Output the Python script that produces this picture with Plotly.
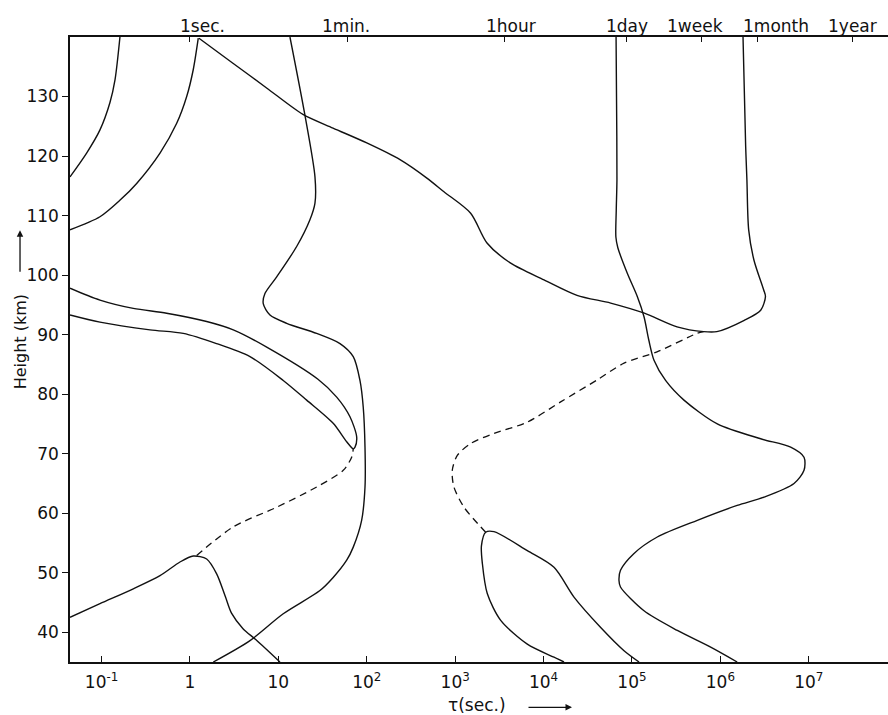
import numpy as np
import plotly.graph_objects as go

# ---- data: log10(tau [s]) and height [km] ----
A_logtau = [-1.357, -1.169, -1.018, -0.905, -0.848, -0.792]
A_h = [116.5, 120.5, 124.4, 129, 132.8, 140]

B_logtau = [-1.357, -1.018, -0.79, -0.603, -0.339, -0.15, -0.037, 0.037, 0.094]
B_h = [107.6, 109.8, 112.6, 115.4, 120.5, 125.5, 130, 134.5, 139.8]

C_logtau = [0.102, 0.486, 0.871, 1.278, 1.618, 2.0, 2.376, 2.68, 2.873, 3.175,
            3.36, 3.628, 4.005, 4.378, 4.759, 5.14, 5.51, 5.81, 5.96, 6.27,
            6.456, 6.51, 6.49, 6.38, 6.32, 6.30, 6.286, 6.256]
C_h = [139.8, 135.6, 131.4, 127.0, 124.7, 122.2, 119.4, 116.3, 114.0, 110.4,
       105.4, 102.0, 99.2, 96.6, 95.3, 93.6, 91.3, 90.5, 90.5, 92.4,
       94.1, 96.4, 97.5, 102.5, 107.6, 116, 121.6, 140]

D_logtau = [4.82, 4.825, 4.83, 4.822, 4.818, 4.84, 4.947, 5.06, 5.136, 5.19,
            5.249, 5.38, 5.588, 5.965, 6.456, 6.795, 6.946, 6.946, 6.833, 6.493,
            6.19, 5.739, 5.286, 5.02, 4.87, 4.853, 4.87, 5.136, 5.513, 5.89, 6.19]
D_h = [140, 130, 116, 110.9, 106.4, 104.6, 100.3, 96.4, 93.0, 89.1,
       85.7, 82.3, 79.0, 75.0, 72.5, 71.1, 69.4, 67.2, 65.0, 62.7,
       61.3, 58.8, 56.0, 53.2, 50.4, 48.7, 47.6, 43.6, 40.3, 37.5, 35]

E_logtau = [1.131, 1.30, 1.414, 1.414, 1.357, 1.207, 0.981, 0.848, 0.829, 0.905,
            1.094, 1.433, 1.697, 1.847, 1.923, 1.96, 1.98, 1.98, 1.942, 1.847,
            1.773, 1.62, 1.47, 1.055, 0.679, 0.264]
E_h = [140, 126.9, 116.5, 112.1, 109.3, 104.8, 99.7, 96.9, 95.2, 93.3,
       91.9, 90.2, 88.5, 86.3, 82.3, 77.8, 71.1, 64.4, 58.8, 54.3,
       52.1, 49.2, 47.0, 43.1, 38.6, 35]

F_logtau = [-1.357, -1.018, -0.641, -0.264, 0.189, 0.49, 0.868, 1.448, 1.66, 1.81,
            1.886, 1.867, 1.847, 1.773, 1.62, 1.32, 1.055, 0.679, 0.30, -0.076,
            -0.452, -1.018, -1.357]
F_h = [97.8, 95.8, 94.4, 93.6, 92.2, 90.8, 87.9, 82.5, 79.5, 76.2,
       72.8, 71.1, 70.8, 72.0, 75.1, 79.0, 82.3, 86.3, 88.5, 90.2,
       90.8, 92.1, 93.3]

G_logtau = [-1.357, -1.018, -0.641, -0.339, -0.113, 0.037, 0.189, 0.302, 0.40,
            0.47, 0.60, 0.75, 1.018]
G_h = [42.5, 44.8, 47.3, 49.5, 51.8, 52.8, 52.3, 49.8, 46.0, 43.2, 40.6, 38.7, 35]

H_logtau = [4.231, 4.118, 3.816, 3.515, 3.363, 3.308, 3.297, 3.345, 3.439, 3.816,
            4.118, 4.344, 4.646, 4.91, 5.08]
H_h = [35, 35.8, 38.0, 42.0, 46.5, 51.5, 54.5, 56.8, 56.9, 53.7,
       50.9, 45.9, 40.8, 36.9, 35]

FG_dash_logtau = [0.076, 0.49, 0.981, 1.433, 1.734, 1.829, 1.847]
FG_dash_h = [52.9, 57.7, 61.0, 64.4, 67.2, 69.4, 70.8]

HC_dash_logtau = [3.345, 3.289, 3.1, 2.986, 2.967, 3.024, 3.175, 3.439, 3.816,
                  4.193, 4.607, 4.91, 5.283, 5.735, 5.81]
HC_dash_h = [56.8, 57.7, 61.0, 64.4, 67.2, 69.7, 71.7, 73.4, 75.3,
             78.7, 82.4, 85.2, 87.1, 90.2, 90.5]

# tick labels
bottom_tickvals = [0.1, 1, 10, 1e2, 1e3, 1e4, 1e5, 1e6, 1e7]
bottom_ticktext = ["10<sup>-1</sup>", "1", "10", "10<sup>2</sup>", "10<sup>3</sup>",
                   "10<sup>4</sup>", "10<sup>5</sup>", "10<sup>6</sup>", "10<sup>7</sup>"]
top_tickvals = [1, 60, 3600, 86400, 604800, 2.63e6, 3.156e7]
top_ticktext = ["1sec.", "1min.", "1hour", "1day", "1week", "1month", "1year"]
y_tickvals = [40, 50, 60, 70, 80, 90, 100, 110, 120, 130]

# label nudges (style, pixels) for the top labels, as typeset in the original
top_label_xshift = [13, -1, 7, 1, -6, 18, 0]

x_range_log = [-1.357, 7.896]
y_range = [35, 140]

FONT = "DejaVu Sans"
INK = "#111111"

fig = go.Figure()

solid = [(A_logtau, A_h), (B_logtau, B_h), (C_logtau, C_h), (D_logtau, D_h),
         (E_logtau, E_h), (F_logtau, F_h), (G_logtau, G_h), (H_logtau, H_h)]
for lx, h in solid:
    fig.add_trace(go.Scatter(x=10 ** np.array(lx), y=h, mode="lines",
                             line=dict(color=INK, width=1.4, shape="spline", smoothing=0.8),
                             hoverinfo="skip", showlegend=False))

for lx, h in [(FG_dash_logtau, FG_dash_h), (HC_dash_logtau, HC_dash_h)]:
    fig.add_trace(go.Scatter(x=10 ** np.array(lx), y=h, mode="lines",
                             line=dict(color=INK, width=1.3, dash="7px,5px",
                                       shape="spline", smoothing=0.8),
                             hoverinfo="skip", showlegend=False))

# invisible trace to carry the top axis
fig.add_trace(go.Scatter(x=[1, 1e7], y=[35, 35], xaxis="x2", mode="lines",
                         line=dict(width=0, color="rgba(0,0,0,0)"),
                         hoverinfo="skip", showlegend=False))

fig.update_layout(
    width=888, height=715,
    margin=dict(l=70, r=0, t=37, b=53, autoexpand=False),
    paper_bgcolor="white", plot_bgcolor="white",
    font=dict(family=FONT, size=17, color=INK),
    xaxis=dict(type="log", range=x_range_log, tickvals=bottom_tickvals,
               ticktext=bottom_ticktext, ticks="inside", ticklen=6, tickwidth=1.2,
               tickcolor=INK, showline=True, linecolor=INK, linewidth=2,
               showgrid=False, zeroline=False, tickangle=0, automargin=False,
               ticklabelstandoff=4, tickfont=dict(size=17)),
    xaxis2=dict(type="log", range=x_range_log, overlaying="x", side="top",
                anchor="y", tickvals=top_tickvals, showticklabels=False,
                ticks="inside", ticklen=5, tickwidth=1.2, tickcolor=INK,
                showline=True, linecolor=INK, linewidth=2, showgrid=False,
                zeroline=False, automargin=False),
    yaxis=dict(range=y_range, tickvals=y_tickvals, ticks="outside", ticklen=6,
               tickwidth=1.2, tickcolor=INK, showline=True, linecolor=INK,
               linewidth=1.5, showgrid=False, zeroline=False, automargin=False,
               tickfont=dict(size=17)),
)

# top labels placed at the top-axis ticks
for v, t, dx in zip(top_tickvals, top_ticktext, top_label_xshift):
    fig.add_annotation(xref="x", yref="paper", x=np.log10(v), y=1.0176,
                       xanchor="center", yanchor="middle", xshift=dx,
                       text=t, showarrow=False,
                       font=dict(size=17, family=FONT, color=INK))

# axis titles with arrows
fig.add_annotation(xref="paper", yref="paper", x=-0.0611, y=0.5115,
                   xanchor="center", yanchor="middle",
                   text="Height (km)", textangle=-90, showarrow=False,
                   font=dict(size=16, family=FONT, color=INK))
fig.add_annotation(xref="paper", yref="paper", x=-0.0611, y=0.6907,
                   ax=0, ay=43, text="", showarrow=True, arrowhead=2,
                   arrowsize=1, arrowwidth=1.3, arrowcolor=INK)
fig.add_annotation(xref="paper", yref="paper", x=0.4976, y=-0.0693,
                   xanchor="center", yanchor="middle",
                   text="τ(sec.)", showarrow=False,
                   font=dict(size=17, family=FONT, color=INK))
fig.add_annotation(xref="paper", yref="paper", x=0.6137, y=-0.0725,
                   ax=-45, ay=0, text="", showarrow=True, arrowhead=2,
                   arrowsize=1, arrowwidth=1.3, arrowcolor=INK)

fig.write_html("out.html")
